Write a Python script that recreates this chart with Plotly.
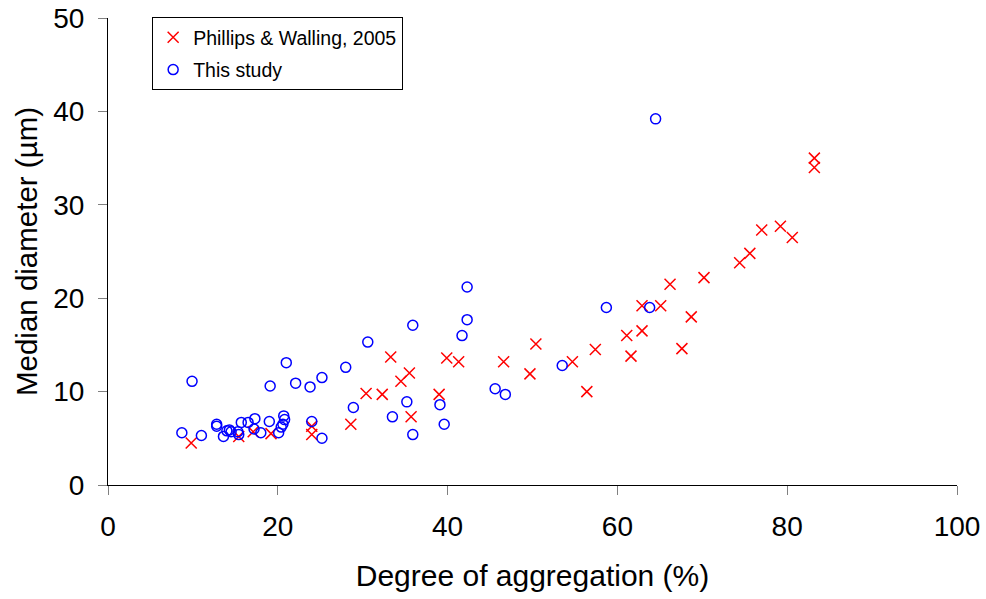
import plotly.graph_objects as go

# Phillips & Walling, 2005
pw_x = [9.8, 15.4, 17.1, 19.2, 24.0, 24.0, 28.6, 30.4, 32.3, 33.3, 34.5, 35.5, 35.7,
        39.0, 39.9, 41.3, 46.6, 49.7, 50.4, 54.7, 56.4, 57.4, 61.1, 61.6, 62.9, 62.9,
        65.1, 66.2, 67.6, 68.7, 70.2, 74.4, 75.6, 77.0, 79.2, 80.6, 83.2, 83.2]
pw_y = [4.5, 5.2, 5.7, 5.5, 6.3, 5.4, 6.5, 9.8, 9.7, 13.7, 11.1, 12.0, 7.3,
        9.7, 13.6, 13.2, 13.2, 11.9, 15.1, 13.2, 10.0, 14.5, 16.0, 13.8, 16.5, 19.2,
        19.2, 21.5, 14.6, 18.0, 22.2, 23.8, 24.8, 27.3, 27.7, 26.5, 35.0, 34.0]

# This study
ts_x = [8.7, 11.0, 9.9, 12.8, 12.8, 13.6, 14.0, 14.3, 14.5, 15.3, 15.4, 15.7, 16.5,
        17.3, 17.2, 18.0, 19.0, 19.1, 20.1, 20.4, 20.6, 20.8, 20.7, 21.0, 22.1, 23.8,
        25.2, 24.0, 25.2, 28.0, 28.9, 30.6, 35.9, 42.3, 42.3, 41.7, 33.5, 35.2, 35.9,
        39.1, 39.6, 45.6, 46.8, 53.5, 58.7, 63.8, 64.5]
ts_y = [5.6, 5.3, 11.1, 6.5, 6.3, 5.2, 5.8, 5.9, 5.7, 5.7, 5.4, 6.7, 6.7,
        7.1, 6.0, 5.6, 6.8, 10.6, 5.6, 6.2, 6.5, 7.0, 7.4, 13.1, 10.9, 10.5,
        11.5, 6.8, 5.0, 12.6, 8.3, 15.3, 17.1, 21.2, 17.7, 16.0, 7.3, 8.9, 5.4,
        8.6, 6.5, 10.3, 9.7, 12.8, 19.0, 19.0, 39.2]

x_ticks = [0, 20, 40, 60, 80, 100]
y_ticks = [0, 10, 20, 30, 40, 50]

FONT = "Liberation Sans, Arial, sans-serif"

fig = go.Figure()
fig.add_trace(go.Scatter(
    x=pw_x, y=pw_y, mode="markers", name="Phillips & Walling, 2005",
    legendgroup="a",
    marker=dict(symbol="x-thin-open", size=11, color="#ff0000",
                line=dict(color="#ff0000", width=1.5)),
))
fig.add_trace(go.Scatter(
    x=ts_x, y=ts_y, mode="markers", name="This study",
    legendgroup="b",
    marker=dict(symbol="circle-open", size=10, color="#0000ff",
                line=dict(color="#0000ff", width=1.5)),
))

fig.update_layout(
    width=986, height=599,
    margin=dict(l=108, r=29, t=18, b=114),
    plot_bgcolor="white", paper_bgcolor="white",
    font=dict(family=FONT, color="black"),
    showlegend=True,
    legend=dict(x=0.052, y=1.002, xanchor="left", yanchor="top",
                bordercolor="black", borderwidth=1, bgcolor="white",
                tracegroupgap=4,
                font=dict(size=19.5, family=FONT)),
    xaxis=dict(range=[0, 100], tickvals=x_ticks, showgrid=False, zeroline=False,
               showline=True, linecolor="black", linewidth=1, automargin=False,
               ticks="outside", ticklen=9, tickcolor="#808080", ticklabelstandoff=7,
               ticklabeloverflow="allow",
               tickfont=dict(size=28), title=dict(text="Degree of aggregation (%)",
                                                  font=dict(size=30), standoff=24)),
    yaxis=dict(range=[0, 50], tickvals=y_ticks, showgrid=False, zeroline=False,
               showline=True, linecolor="black", linewidth=1, automargin=False,
               ticks="outside", ticklen=9, tickcolor="#808080", ticklabelstandoff=8,
               ticklabeloverflow="allow",
               tickfont=dict(size=28), title=dict(text="Median diameter (µm)",
                                                  font=dict(size=29.5), standoff=6)),
)

fig.write_html("out.html", config={"displayModeBar": False},
               post_script="document.body.style.margin='0px';")
